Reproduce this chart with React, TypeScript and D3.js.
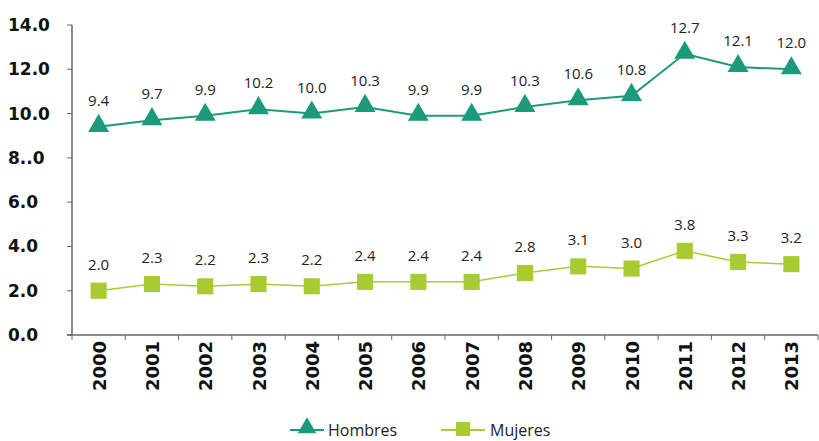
import * as d3 from "d3";

const years = ["2000", "2001", "2002", "2003", "2004", "2005", "2006", "2007", "2008", "2009", "2010", "2011", "2012", "2013"];
const hombres = [9.4, 9.7, 9.9, 10.2, 10.0, 10.3, 9.9, 9.9, 10.3, 10.6, 10.8, 12.7, 12.1, 12.0];
const mujeres = [2.0, 2.3, 2.2, 2.3, 2.2, 2.4, 2.4, 2.4, 2.8, 3.1, 3.0, 3.8, 3.3, 3.2];
const yTicks = [0, 2, 4, 6, 8, 10, 12, 14];
const yTickLabels = ["0.0", "2.0", "4.0", "6.0", "8..0", "10.0", "12.0", "14.0"];

const TEAL = "#1b9a7c";
const LIME = "#a8cb33";

export default function App() {
  const width = 819;
  const height = 441;
  const left = 72;
  const right = 818;
  const top = 25;
  const bottom = 335;

  const x = d3.scaleBand<string>().domain(years).range([left, right]);
  const y = d3.scaleLinear().domain([0, 14]).range([bottom, top]);
  const cx = (yr: string) => x(yr)! + x.bandwidth() / 2;

  const line = d3
    .line<number>()
    .x((_, i) => cx(years[i]))
    .y((d) => y(d));

  const tri = d3.symbol(d3.symbolTriangle, 190)();
  const sq = d3.symbol(d3.symbolSquare, 260)();
  const tickFont = "'DejaVu Sans', sans-serif";
  const labelFont = "'Open Sans', 'Noto Sans', sans-serif";

  return (
    <svg
      width={width}
      height={height}
      style={{ position: "absolute", left: 0, top: 0, background: "#fff" }}
    >
      {/* y axis */}
      <line x1={left} x2={left} y1={top} y2={bottom} stroke="#666" strokeWidth={1.5} />
      {yTicks.map((t, i) => (
        <g key={t}>
          <line x1={left - 5} x2={left} y1={y(t)} y2={y(t)} stroke="#666" />
          <text
            x={8}
            y={y(t)}
            dy="0.35em"
            fontFamily={tickFont}
            fontWeight="bold"
            fontSize={17}
            fill="#111"
          >
            {yTickLabels[i]}
          </text>
        </g>
      ))}

      {/* x axis */}
      <line x1={left - 5} x2={right} y1={bottom} y2={bottom} stroke="#666" strokeWidth={1.5} />
      {years.map((yr) => (
        <g key={yr}>
          <line x1={x(yr)!} x2={x(yr)!} y1={bottom} y2={bottom + 5} stroke="#666" />
          <text
            transform={`translate(${cx(yr) + 7},${bottom + 6}) rotate(-90)`}
            textAnchor="end"
            fontFamily={tickFont}
            fontWeight="bold"
            fontSize={18}
            fill="#111"
          >
            {yr}
          </text>
        </g>
      ))}
      <line x1={right} x2={right} y1={bottom} y2={bottom + 5} stroke="#666" />

      {/* series */}
      <path d={line(hombres)!} fill="none" stroke={TEAL} strokeWidth={2} />
      <path d={line(mujeres)!} fill="none" stroke={LIME} strokeWidth={1.5} />
      {hombres.map((v, i) => (
        <g key={"h" + i}>
          <path d={tri} transform={`translate(${cx(years[i])},${y(v) - 1})`} fill={TEAL} />
          <text
            x={cx(years[i])}
            y={y(v) - 21}
            textAnchor="middle"
            fontFamily={labelFont}
            fontSize={15}
            fill="#222"
          >
            {v.toFixed(1)}
          </text>
        </g>
      ))}
      {mujeres.map((v, i) => (
        <g key={"m" + i}>
          <path d={sq} transform={`translate(${cx(years[i])},${y(v)})`} fill={LIME} />
          <text
            x={cx(years[i])}
            y={y(v) - 21}
            textAnchor="middle"
            fontFamily={labelFont}
            fontSize={15}
            fill="#222"
          >
            {v.toFixed(1)}
          </text>
        </g>
      ))}

      {/* legend */}
      <g transform="translate(0,430)">
        <line x1={290} x2={324} y1={0} y2={0} stroke={TEAL} strokeWidth={2} />
        <path d={d3.symbol(d3.symbolTriangle, 150)()!} transform="translate(307,-2)" fill={TEAL} />
        <text x={328} y={0} dy="0.35em" fontFamily={labelFont} fontSize={16} fill="#222">
          Hombres
        </text>
        <line x1={441} x2={485} y1={0} y2={0} stroke={LIME} strokeWidth={2} />
        <path d={d3.symbol(d3.symbolSquare, 200)()!} transform="translate(463,-1)" fill={LIME} />
        <text x={490} y={0} dy="0.35em" fontFamily={labelFont} fontSize={16} fill="#222">
          Mujeres
        </text>
      </g>
    </svg>
  );
}
